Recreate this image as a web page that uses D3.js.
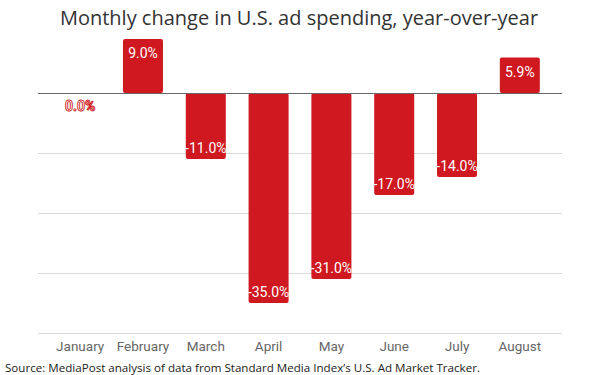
<!DOCTYPE html>
<html>
<head>
<meta charset="utf-8">
<script src="https://cdn.jsdelivr.net/npm/d3@7"></script>
<style>
  body { margin: 0; background: #fff; }
  svg { display: block; }
</style>
</head>
<body>
<svg id="chart" width="600" height="375"></svg>
<script>
// data
var months = ["January", "February", "March", "April", "May", "June", "July", "August"]
var change = [0.0, 9.0, -11.0, -35.0, -31.0, -17.0, -14.0, 5.9]
var gridTicks = [-10, -20, -30, -40]

var title = "Monthly change in U.S. ad spending, year-over-year"
var source = "Source: MediaPost analysis of data from Standard Media Index\u2019s U.S. Ad Market Tracker."

var red = "#cf1820"

var svg = d3.select("svg#chart")

var x = d3.scaleBand()
    .domain(months)
    .range([38, 562])
    .paddingInner(0.363)
    .paddingOuter(0.353)

var y = d3.scaleLinear()
    .domain([-40, 10])
    .range([333, 33])

// title
svg.append("text")
    .attr("x", 299)
    .attr("y", 25)
    .attr("text-anchor", "middle")
    .attr("font-family", "'Open Sans', sans-serif")
    .attr("font-size", 20)
    .attr("fill", "#333")
    .text(title)

// gridlines
svg.selectAll("line.grid")
    .data(gridTicks)
    .enter()
    .append("line")
    .attr("class", "grid")
    .attr("x1", 38)
    .attr("x2", 562)
    .attr("y1", function(d){ return y(d) + 0.5 })
    .attr("y2", function(d){ return y(d) + 0.5 })
    .attr("stroke", "#d9d9d9")
    .attr("stroke-width", 1)

var rows = months.map(function(m, i){ return {month: m, value: change[i]} })

// bars
svg.selectAll("rect.bar")
    .data(rows.filter(function(d){ return d.value != 0 }))
    .enter()
    .append("rect")
    .attr("class", "bar")
    .attr("x", function(d){ return x(d.month) })
    .attr("width", x.bandwidth())
    .attr("y", function(d){ return Math.min(y(d.value), y(0)) })
    .attr("height", function(d){ return Math.abs(y(d.value) - y(0)) })
    .attr("rx", 2)
    .attr("fill", red)

// zero line
svg.append("line")
    .attr("x1", 38)
    .attr("x2", 562)
    .attr("y1", y(0) + 0.5)
    .attr("y2", y(0) + 0.5)
    .attr("stroke", "#666")
    .attr("stroke-width", 1.2)

// value labels
svg.selectAll("text.val")
    .data(rows)
    .enter()
    .append("text")
    .attr("class", "val")
    .attr("x", function(d){ return x(d.month) + x.bandwidth() / 2 })
    .attr("y", function(d){
        if (d.value > 0) return y(d.value) + 19
        if (d.value < 0) return y(d.value) - 6
        return y(0) + 18
    })
    .attr("text-anchor", "middle")
    .attr("font-family", "Roboto, sans-serif")
    .attr("font-size", 14)
    .attr("font-weight", function(d){ return d.value == 0 ? "bold" : "normal" })
    .attr("fill", "#fff")
    .attr("stroke", function(d){ return d.value == 0 ? red : "none" })
    .attr("stroke-width", 0.9)
    .text(function(d){ return d.value.toFixed(1) + "%" })

// x axis labels
var xAxis = d3.axisBottom(x).tickSize(0).tickPadding(0)
var gx = svg.append("g")
    .attr("transform", "translate(0,340)")
    .call(xAxis)
gx.select(".domain").remove()
gx.selectAll("text")
    .attr("dy", "0.8em")
    .attr("font-family", "Roboto, sans-serif")
    .attr("font-size", 13.5)
    .attr("fill", "#666")

// source note
svg.append("text")
    .attr("x", 5)
    .attr("y", 372)
    .attr("font-family", "'Open Sans', sans-serif")
    .attr("font-size", 11.6)
    .attr("fill", "#222")
    .text(source)
</script>
</body>
</html>
